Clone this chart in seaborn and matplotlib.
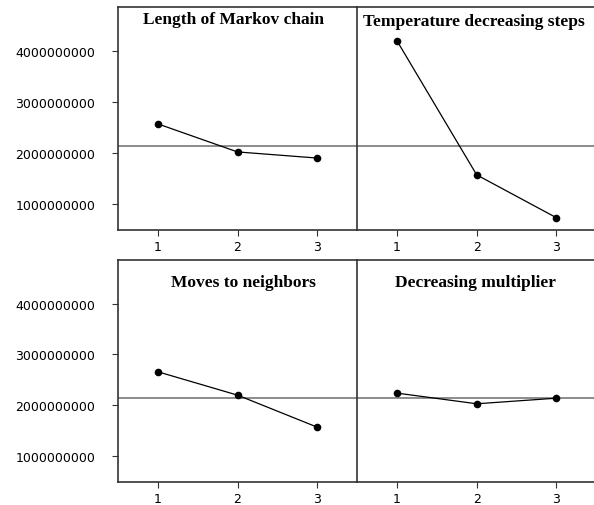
import matplotlib
matplotlib.use("Agg")
import matplotlib.pyplot as plt
import seaborn as sns
import pandas as pd

levels = [1, 2, 3]
markov_chain = [2.57e9, 2.02e9, 1.90e9]
temp_steps = [4.20e9, 1.57e9, 0.73e9]
moves_neighbors = [2.66e9, 2.20e9, 1.57e9]
decr_multiplier = [2.24e9, 2.03e9, 2.14e9]
grand_mean = 2.14e9
titles = ["Length of Markov chain", "Temperature decreasing steps",
          "Moves to neighbors", "Decreasing multiplier"]
yticks = [1e9, 2e9, 3e9, 4e9]

sns.set_theme(style="white")
plt.rcParams['font.family'] = ['DejaVu Sans']

df = pd.DataFrame({
    "level": levels * 4,
    "value": markov_chain + temp_steps + moves_neighbors + decr_multiplier,
    "factor": sum([[t] * 3 for t in titles], []),
})

fig = plt.figure(figsize=(5.94, 5.06), dpi=100)
W, H = 594, 506
rows = [(8, 231), (261, 483)]
cols = [(118, 357, 3.5), (357, 594, 3.47)]
title_pos = [(1.95, 0.946), (1.96, 0.939), (2.08, 0.90), (1.98, 0.90)]
spine_c = "#333333"

k = 0
for r, (top, bot) in enumerate(rows):
    for c, (left, right, xmax) in enumerate(cols):
        ax = fig.add_axes([left / W, 1 - bot / H, (right - left) / W, (bot - top) / H])
        name = titles[k]
        sub = df[df["factor"] == name]
        ax.axhline(grand_mean, color="#8c8c8c", lw=1.4, zorder=1)
        sns.lineplot(data=sub, x="level", y="value", ax=ax, color="black",
                     lw=0.9, marker="o", markersize=5.5, markeredgewidth=0,
                     zorder=3)
        ax.set_xlim(0.5, xmax)
        ax.set_ylim(0.49e9, 4.86e9)
        ax.set_xticks(levels)
        ax.set_xticklabels([str(v) for v in levels], fontsize=9, color="black")
        ax.set_xlabel("")
        ax.set_ylabel("")
        ax.tick_params(axis="x", bottom=True, length=4, width=0.8, color=spine_c, pad=3)
        if c == 0:
            ax.set_yticks(yticks)
            ax.set_yticklabels(["%d" % v for v in yticks], fontsize=9, color="black")
            ax.tick_params(axis="y", left=True, length=4, width=0.8, color=spine_c, pad=12.5)
        else:
            ax.set_yticks([])
        ax.spines["right"].set_visible(False)
        for s in ["left", "top", "bottom"]:
            ax.spines[s].set_color(spine_c)
            ax.spines[s].set_linewidth(1.2)
        tx, ty = title_pos[k]
        ax.text(tx, ty, name, transform=ax.get_xaxis_transform(), ha="center",
                va="center", fontsize=12.5, fontweight="bold", color="black",
                family=["Liberation Serif", "DejaVu Serif"])
        k += 1

fig.savefig("out.png", dpi=100)
